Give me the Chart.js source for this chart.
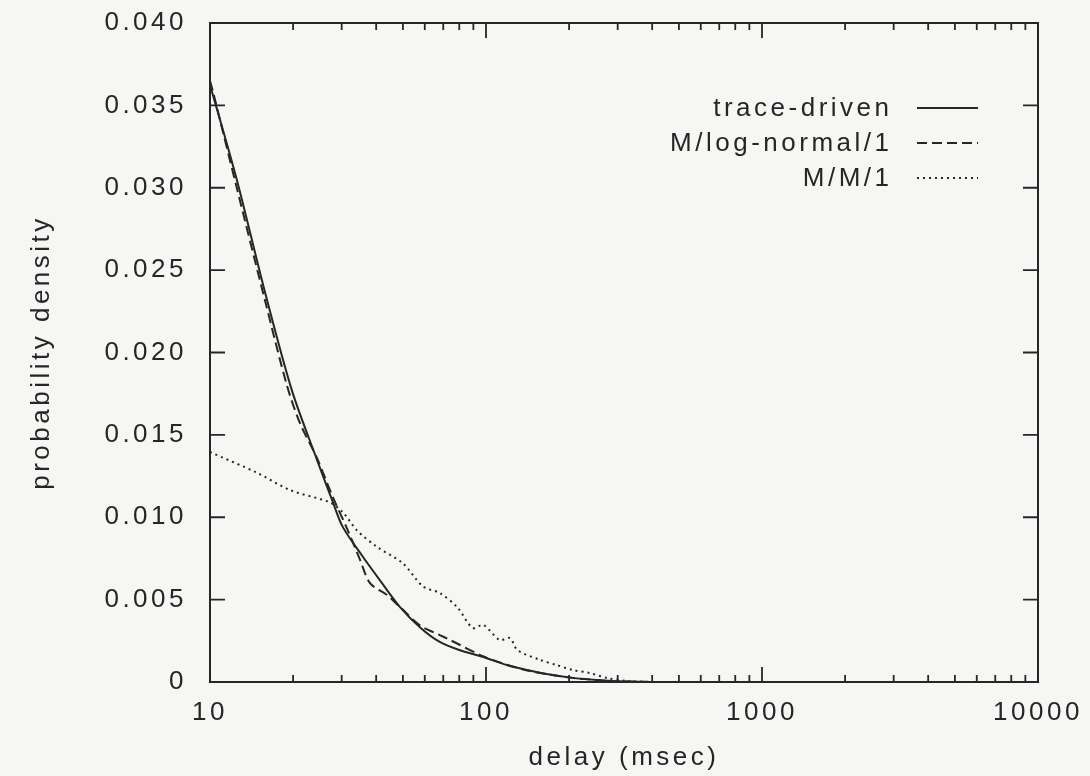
<!DOCTYPE html>
<html>
<head>
<meta charset="utf-8">
<script src="https://cdn.jsdelivr.net/npm/chart.js@4.4.1/dist/chart.umd.min.js"></script>
<style>
  html, body { margin: 0; padding: 0; background: #f6f6f4; }
  #wrap { width: 1090px; height: 776px; position: relative; }
</style>
</head>
<body>
<div id="wrap"><canvas id="c" width="1090" height="776"></canvas></div>
<script>
// ---- data ----
const seriesNames = ['trace-driven', 'M/log-normal/1', 'M/M/1'];

const traceX = [10, 10.3, 12.5, 15.8, 19.8, 24.4, 27.9, 30.3, 35.8, 42, 48.8, 58, 68, 80, 97.7, 119, 141, 170, 206, 252, 300, 400];
const traceY = [0.0362, 0.0355, 0.0305, 0.0237, 0.0177, 0.0135, 0.0109, 0.0094, 0.0076, 0.0060, 0.00455, 0.00328, 0.00243, 0.00194, 0.00152, 0.00103, 0.00073, 0.00045, 0.00025, 0.00012, 0.00004, 0.0];

const lognX = [10, 10.3, 12.5, 15.8, 19.0, 21.2, 24.4, 27.9, 31.4, 35, 38, 43.8, 48.8, 58, 68, 74.1, 98, 119, 141, 170, 206, 252, 300, 400];
const lognY = [0.0365, 0.0357, 0.0300, 0.0232, 0.0180, 0.0157, 0.0136, 0.0112, 0.0093, 0.0074, 0.0060, 0.00528, 0.00455, 0.0034, 0.00285, 0.00255, 0.00155, 0.00105, 0.0007, 0.00045, 0.00025, 0.00012, 0.00004, 0.0];

const mm1X = [10, 14.8, 19.5, 27.2, 30.3, 34.1, 40.3, 50, 59.1, 68, 78.6, 89.5, 97.8, 112, 122, 130, 157, 180, 206, 237, 275, 324, 400];
const mm1Y = [0.01396, 0.0127, 0.01165, 0.0109, 0.0103, 0.0092, 0.0082, 0.0072, 0.0058, 0.0054, 0.00455, 0.00328, 0.00346, 0.00255, 0.00267, 0.00194, 0.00134, 0.00103, 0.00073, 0.00055, 0.00024, 0.00006, 0.0];

const xTickValues = [10, 100, 1000, 10000];
const xTickLabels = ['10', '100', '1000', '10000'];
const yTickValues = [0, 0.005, 0.010, 0.015, 0.020, 0.025, 0.030, 0.035, 0.040];
const yTickLabels = ['0', '0.005', '0.010', '0.015', '0.020', '0.025', '0.030', '0.035', '0.040'];
const xTitle = 'delay (msec)';
const yTitle = 'probability density';

// ---- build ----
const pts = (xs, ys) => xs.map((x, i) => ({ x: x, y: ys[i] }));
const INK = '#262626';
const TEXT = '#262626';
const FONT = "'Liberation Sans', Arial, Helvetica, sans-serif";
const SPACING = '3.5px';

const spacingPlugin = {
  id: 'spacing',
  beforeDraw(chart) {
    const ctx = chart.ctx;
    ctx.fillStyle = '#f6f6f4';
    ctx.fillRect(0, 0, chart.width, chart.height);
    try { ctx.letterSpacing = SPACING; } catch (e) {}
  }
};

const frameTicksPlugin = {
  id: 'frameTicks',
  afterDraw(chart) {
    const ctx = chart.ctx;
    const a = chart.chartArea;
    const xs = chart.scales.x, ys = chart.scales.y;
    ctx.save();
    ctx.strokeStyle = INK;
    ctx.lineWidth = 2;
    ctx.setLineDash([]);
    ctx.strokeRect(a.left, a.top, a.right - a.left, a.bottom - a.top);
    ctx.lineWidth = 1.8;
    ctx.beginPath();
    for (let d = 0; d < xTickValues.length; d++) {
      const base = xTickValues[d];
      for (let m = 1; m <= 9; m++) {
        const v = base * m;
        if (v > xs.max * 1.0001) break;
        const px = xs.getPixelForValue(v);
        const len = (m === 1) ? 15 : 7;
        ctx.moveTo(px, a.bottom); ctx.lineTo(px, a.bottom - len);
        ctx.moveTo(px, a.top); ctx.lineTo(px, a.top + len);
      }
    }
    yTickValues.forEach(v => {
      const py = ys.getPixelForValue(v);
      ctx.moveTo(a.left, py); ctx.lineTo(a.left + 15, py);
      ctx.moveTo(a.right, py); ctx.lineTo(a.right - 15, py);
    });
    ctx.stroke();

    const rows = [108, 143, 178];
    ctx.font = '26px ' + FONT;
    try { ctx.letterSpacing = SPACING; } catch (e) {}
    ctx.textAlign = 'right';
    ctx.textBaseline = 'middle';
    ctx.fillStyle = TEXT;
    chart.data.datasets.forEach((ds, i) => {
      const y = rows[i];
      ctx.fillText(ds.label, 892.5, y + 1);
      ctx.beginPath();
      ctx.lineWidth = ds.borderWidth;
      ctx.strokeStyle = ds.borderColor;
      ctx.setLineDash(ds.borderDash || []);
      ctx.moveTo(917, y); ctx.lineTo(978, y);
      ctx.stroke();
    });
    ctx.restore();
  }
};

new Chart(document.getElementById('c'), {
  type: 'line',
  data: {
    datasets: [
      { label: seriesNames[0], data: pts(traceX, traceY), borderColor: INK, borderWidth: 2, borderDash: [], pointRadius: 0, tension: 0.3, fill: false },
      { label: seriesNames[1], data: pts(lognX, lognY), borderColor: INK, borderWidth: 2, borderDash: [10, 5], pointRadius: 0, tension: 0.3, fill: false },
      { label: seriesNames[2], data: pts(mm1X, mm1Y), borderColor: INK, borderWidth: 2, borderDash: [2, 4], pointRadius: 0, tension: 0.3, fill: false }
    ]
  },
  options: {
    responsive: false,
    animation: false,
    events: [],
    layout: { padding: { left: 22, right: 52, top: 23, bottom: 0 } },
    plugins: { legend: { display: false }, tooltip: { enabled: false } },
    scales: {
      x: {
        type: 'logarithmic',
        min: 10, max: 10000,
        grid: { display: false, drawTicks: false, tickLength: 0 },
        border: { display: false },
        afterBuildTicks: s => { s.ticks = xTickValues.map(v => ({ value: v })); },
        afterFit: s => { s.height = 94; s.paddingLeft = 0; s.paddingRight = 0; },
        ticks: {
          autoSkip: false, maxRotation: 0, padding: 15,
          color: TEXT, font: { family: FONT, size: 26 },
          callback: (v) => { const i = xTickValues.indexOf(v); return i >= 0 ? xTickLabels[i] : ''; }
        },
        title: { display: true, text: xTitle, color: TEXT, font: { family: FONT, size: 26 }, padding: { top: 0, bottom: 3 } }
      },
      y: {
        min: 0, max: 0.04,
        grid: { display: false, drawTicks: false, tickLength: 0 },
        border: { display: false },
        afterBuildTicks: s => { s.ticks = yTickValues.map(v => ({ value: v })); },
        afterFit: s => { s.width = 188; s.paddingTop = 0; s.paddingBottom = 0; },
        ticks: {
          padding: 23,
          color: TEXT, font: { family: FONT, size: 26 },
          callback: (v) => { const i = yTickValues.findIndex(t => Math.abs(t - v) < 1e-9); return i >= 0 ? yTickLabels[i] : ''; }
        },
        title: { display: true, text: yTitle, color: TEXT, font: { family: FONT, size: 26 }, padding: 4 }
      }
    }
  },
  plugins: [spacingPlugin, frameTicksPlugin]
});
</script>
</body>
</html>
